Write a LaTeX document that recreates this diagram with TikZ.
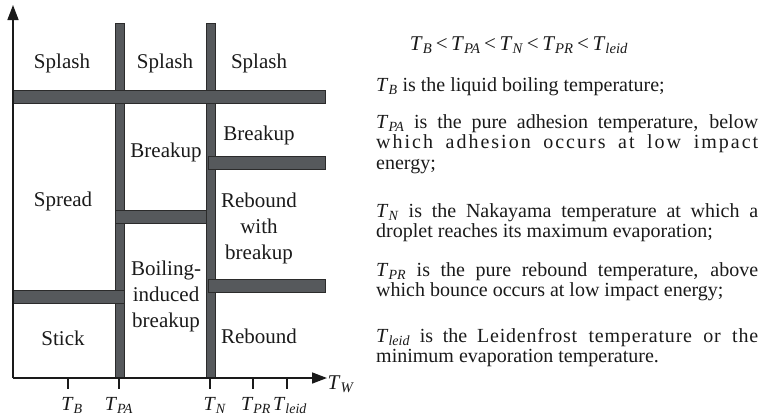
\documentclass[tikz,border=0pt]{standalone}
\usepackage{fontspec}
\setmainfont{Liberation Serif}
\usepackage{tikz}
\usetikzlibrary{arrows.meta}
\definecolor{barFill}{HTML}{56595C}
\definecolor{barEdge}{HTML}{2B2B2B}
\definecolor{inkBlack}{HTML}{1A1A1A}
\newcommand{\tsym}[1]{\textit{T}\textsubscript{\textit{#1}}}
\newcommand{\spaced}[2]{{\addfontfeature{LetterSpace=#1}#2}}

\begin{document}
\begin{tikzpicture}[x=1pt, y=-1pt,
      every node/.style={font=\fontsize{21}{26}\selectfont, text=inkBlack, inner sep=0pt},
      bar/.style={fill=barFill, draw=barEdge, line width=0.8pt},
      axis/.style={-{Triangle[length=15pt, width=11pt]}, draw=inkBlack, line width=1.6pt},
      tick/.style={draw=inkBlack, line width=1.2pt},
      regime/.style={align=center},
      ticklabel/.style={anchor=base, font=\fontsize{20}{24}\selectfont},
      para/.style={anchor=north west, text width=382pt, align=justify,
                   font=\fontsize{20}{20.5}\selectfont},
    ]
      \useasboundingbox (0,0) rectangle (760,416);

      % vertical bars at T_PA and T_N
      \draw[bar] (115,23) rectangle (124,378);
      \draw[bar] (206,23) rectangle (215,378);

      % horizontal bars
      \draw[bar] (13,90) rectangle (325,103);
      \draw[bar] (208,156) rectangle (325,169);
      \draw[bar] (115,210) rectangle (206,223);
      \draw[bar] (208,279) rectangle (325,292);
      \draw[bar] (13,290) rectangle (124,303);

      % axes
      \coordinate (origin) at (13,378);
      \coordinate (ytip) at (13,5);
      \coordinate (xtip) at (327,378);
      \draw[axis] (origin) -- (ytip);
      \draw[axis] (origin) -- (xtip);
      \node (tw) at (341,384) {\tsym{W}};

      % ticks and labels
      \foreach \name/\xpos/\lpos/\sub in {tb/68/72/B, tpa/119/119/PA, tn/210/215/N, tpr/253/256/PR, tleid/287/290/leid} {
        \coordinate (\name) at (\xpos,378);
        \draw[tick] (\name) -- ++(0,11);
        \node[ticklabel] (\name lab) at (\lpos,410) {\tsym{\sub}};
      }

      % regimes
      \node[regime] (splash1) at (62,63) {Splash};
      \node[regime] (splash2) at (165,63) {Splash};
      \node[regime] (splash3) at (259,63) {Splash};
      \node[regime] (breakup1) at (166,152) {Breakup};
      \node[regime] (breakup2) at (259,135) {Breakup};
      \node[regime] (spread) at (63,201) {Spread};
      \node[regime] (rebbreak) at (259,228) {Rebound\\with\\breakup};
      \node[regime] (boiling) at (166,296) {Boiling-\\induced\\breakup};
      \node[regime] (stick) at (63,338) {Stick};
      \node[regime] (rebound) at (259,336) {Rebound};

      % legend text
      \node (order) at (519,45) {\tsym{B}\,<\,\tsym{PA}\,<\,\tsym{N}\,<\,\tsym{PR}\,<\,\tsym{leid}};
      \node[para] (deftb) at (376,77) {\tsym{B} is the liquid boiling temperature;};
      \node[para] (deftpa) at (376,114) {\tsym{PA} is the pure adhesion temperature, below\linebreak \spaced{10}{which adhesion occurs at low impact}\linebreak energy;};
      \node[para] (deftn) at (376,203) {\tsym{N} is the Nakayama temperature at which a\linebreak droplet reaches its maximum evaporation;};
      \node[para] (deftpr) at (376,262) {\tsym{PR} is the pure rebound temperature, above\linebreak which bounce occurs at low impact energy;};
      \node[para] (deftleid) at (376,328) {\tsym{leid} is the \spaced{4}{Leidenfrost temperature or the}\linebreak minimum evaporation temperature.};

    \end{tikzpicture}
\end{document}
